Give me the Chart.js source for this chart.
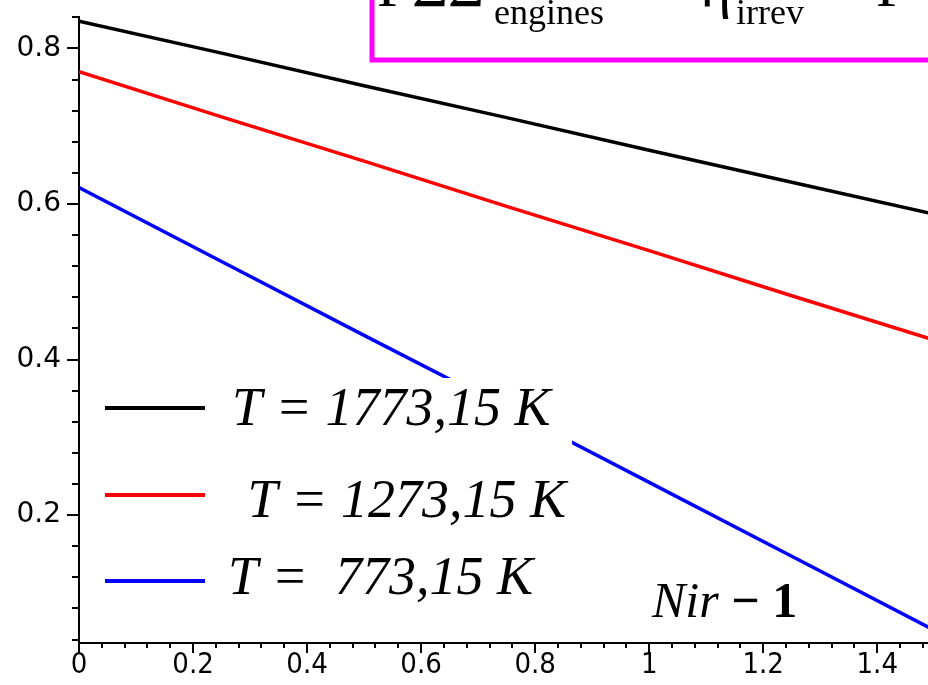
<!DOCTYPE html>
<html>
<head>
<meta charset="utf-8">
<script src="https://cdn.jsdelivr.net/npm/chart.js@4/dist/chart.umd.min.js"></script>
<style>
  html, body { margin: 0; padding: 0; background: #ffffff; }
  #wrap { width: 928px; height: 685px; }
</style>
</head>
<body>
<div id="wrap"><canvas id="c" width="928" height="685"></canvas></div>
<script>
// ---- data ----
const nirMinusOne = [0, 0.25, 0.5, 0.75, 1.0, 1.25, 1.5];
const eta1773 = [0.835, 0.794, 0.752, 0.711, 0.669, 0.628, 0.587];
const eta1273 = [0.770, 0.712, 0.655, 0.597, 0.540, 0.482, 0.425];
const eta773  = [0.621, 0.526, 0.431, 0.337, 0.242, 0.147, 0.052];
const seriesLabels = ['T = 1773,15 K', ' T = 1273,15 K', 'T =  773,15 K'];
const seriesColors = ['#000000', '#ff0000', '#0000ff'];
const xTickLabels = ['0', '0.2', '0.4', '0.6', '0.8', '1', '1.2', '1.4'];
const yTickLabels = ['0.2', '0.4', '0.6', '0.8'];
const xAxisLabel = 'Nir';
const xAxisLabelSuffix = '\u2212 1';

const toPts = (ys) => ys.map((y, i) => ({ x: nirMinusOne[i], y: y }));

// pick a narrow face for the x tick labels if one is installed
function hasFont(name) {
  const c = document.createElement('canvas').getContext('2d');
  c.font = '40px monospace';
  const a = c.measureText('0.2 1.4 0.8').width;
  c.font = '40px "' + name + '", monospace';
  const b = c.measureText('0.2 1.4 0.8').width;
  return Math.abs(a - b) > 0.5;
}
const narrow = hasFont('Liberation Sans Narrow');
const xTickFont = narrow
  ? { family: '"Liberation Sans Narrow"', size: 36 }
  : { family: '"DejaVu Sans Condensed", "DejaVu Sans", sans-serif', size: 29 };

const minorTicks = {
  id: 'minorTicks',
  afterDraw(chart) {
    const { ctx, chartArea } = chart;
    const xs = chart.scales.x, ys = chart.scales.y;
    ctx.save();
    ctx.strokeStyle = '#000';
    ctx.lineWidth = 2;
    ctx.beginPath();
    for (let k = 0; k <= 37; k++) {
      const v = k * 0.04;
      if (v > xs.max) break;
      const px = Math.round(xs.getPixelForValue(v));
      const major = k % 5 === 0;
      ctx.moveTo(px, chartArea.bottom);
      ctx.lineTo(px, chartArea.bottom + (major ? 10 : 5));
    }
    for (let k = 1; k <= 21; k++) {
      const v = k * 0.04;
      if (v > ys.max + 1e-9) break;
      const py = Math.round(ys.getPixelForValue(v));
      const major = k % 5 === 0;
      ctx.moveTo(chartArea.left, py);
      ctx.lineTo(chartArea.left - (major ? 12 : 7), py);
    }
    ctx.stroke();
    ctx.restore();
  }
};

const annotations = {
  id: 'annotations',
  afterDatasetsDraw(chart) {
    const { ctx } = chart;
    ctx.save();
    // legend panel (white, hides the blue line beneath)
    ctx.fillStyle = '#ffffff';
    ctx.fillRect(95, 378, 477, 232);
    const rows = [
      { ly: 408, tx: 232, ty: 425 },
      { ly: 495, tx: 234, ty: 517 },
      { ly: 581, tx: 228, ty: 594 }
    ];
    chart.data.datasets.forEach((ds, i) => {
      const r = rows[i];
      ctx.strokeStyle = ds.borderColor;
      ctx.lineWidth = 4;
      ctx.beginPath();
      ctx.moveTo(105, r.ly);
      ctx.lineTo(205, r.ly);
      ctx.stroke();
      ctx.fillStyle = '#000';
      ctx.font = 'italic 54px "Liberation Serif", "Times New Roman", serif';
      ctx.textBaseline = 'alphabetic';
      ctx.textAlign = 'left';
      ctx.fillText(ds.label, r.tx, r.ty);
    });
    // axis caption
    ctx.font = 'italic 50px "Liberation Serif", serif';
    ctx.fillStyle = '#000';
    ctx.fillText(xAxisLabel, 652, 617);
    const w = ctx.measureText(xAxisLabel + ' ').width;
    ctx.font = 'bold 50px "Liberation Serif", serif';
    ctx.fillText(xAxisLabelSuffix, 652 + w, 617);

    // magenta formula box at the top (cut by the frame)
    ctx.fillStyle = '#ffffff';
    ctx.fillRect(372, -10, 600, 70);
    ctx.strokeStyle = '#ff00ff';
    ctx.lineWidth = 5;
    ctx.strokeRect(372, -20, 600, 80);
    ctx.fillStyle = '#000';
    ctx.font = '60px "Liberation Serif", serif';
    ctx.fillText('P', 377, 6);
    ctx.font = '62px "Liberation Serif", serif';
    ctx.fillText('\u03A3\u03A3', 412, 6);
    ctx.font = '36px "Liberation Serif", serif';
    ctx.fillText('engines', 494, 24);
    ctx.font = '60px "Liberation Serif", serif';
    ctx.fillText('\u03B7', 700, 6);
    ctx.font = '36px "Liberation Serif", serif';
    ctx.fillText('irrev', 736, 24);
    ctx.font = '60px "Liberation Serif", serif';
    ctx.fillText('P', 876, 6);
    ctx.restore();
  }
};

new Chart(document.getElementById('c'), {
  type: 'line',
  data: {
    datasets: [
      { label: seriesLabels[0], data: toPts(eta1773), borderColor: seriesColors[0] },
      { label: seriesLabels[1], data: toPts(eta1273), borderColor: seriesColors[1] },
      { label: seriesLabels[2], data: toPts(eta773),  borderColor: seriesColors[2] }
    ].map(d => Object.assign(d, { borderWidth: 3.5, pointRadius: 0, tension: 0, fill: false }))
  },
  options: {
    responsive: false,
    animation: false,
    devicePixelRatio: 1,
    layout: { padding: { top: 17, right: 0, bottom: 0, left: 0 } },
    plugins: { legend: { display: false }, tooltip: { enabled: false } },
    scales: {
      x: {
        type: 'linear',
        min: 0,
        max: 1.489,
        afterBuildTicks: (axis) => { axis.ticks = xTickLabels.map(l => ({ value: parseFloat(l) })); },
        afterFit: (axis) => { axis.height = 42; axis.paddingRight = 0; },
        ticks: {
          autoSkip: false, maxRotation: 0, padding: 5,
          color: '#000',
          font: xTickFont,
          callback: (v, i) => xTickLabels[i]
        },
        grid: { display: true, drawOnChartArea: false, drawTicks: false },
        border: { display: true, color: '#000', width: 2 }
      },
      y: {
        type: 'linear',
        min: 0.0355,
        max: 0.8404,
        afterBuildTicks: (axis) => { axis.ticks = yTickLabels.map(l => ({ value: parseFloat(l) })); },
        afterFit: (axis) => { axis.width = 79; axis.paddingTop = 0; axis.paddingBottom = 0; },
        ticks: {
          padding: 18,
          color: '#000',
          font: { family: '"DejaVu Sans", sans-serif', size: 28 },
          callback: (v, i) => yTickLabels[i]
        },
        grid: { display: true, drawOnChartArea: false, drawTicks: false },
        border: { display: true, color: '#000', width: 2 }
      }
    }
  },
  plugins: [minorTicks, annotations]
});
</script>
</body>
</html>
